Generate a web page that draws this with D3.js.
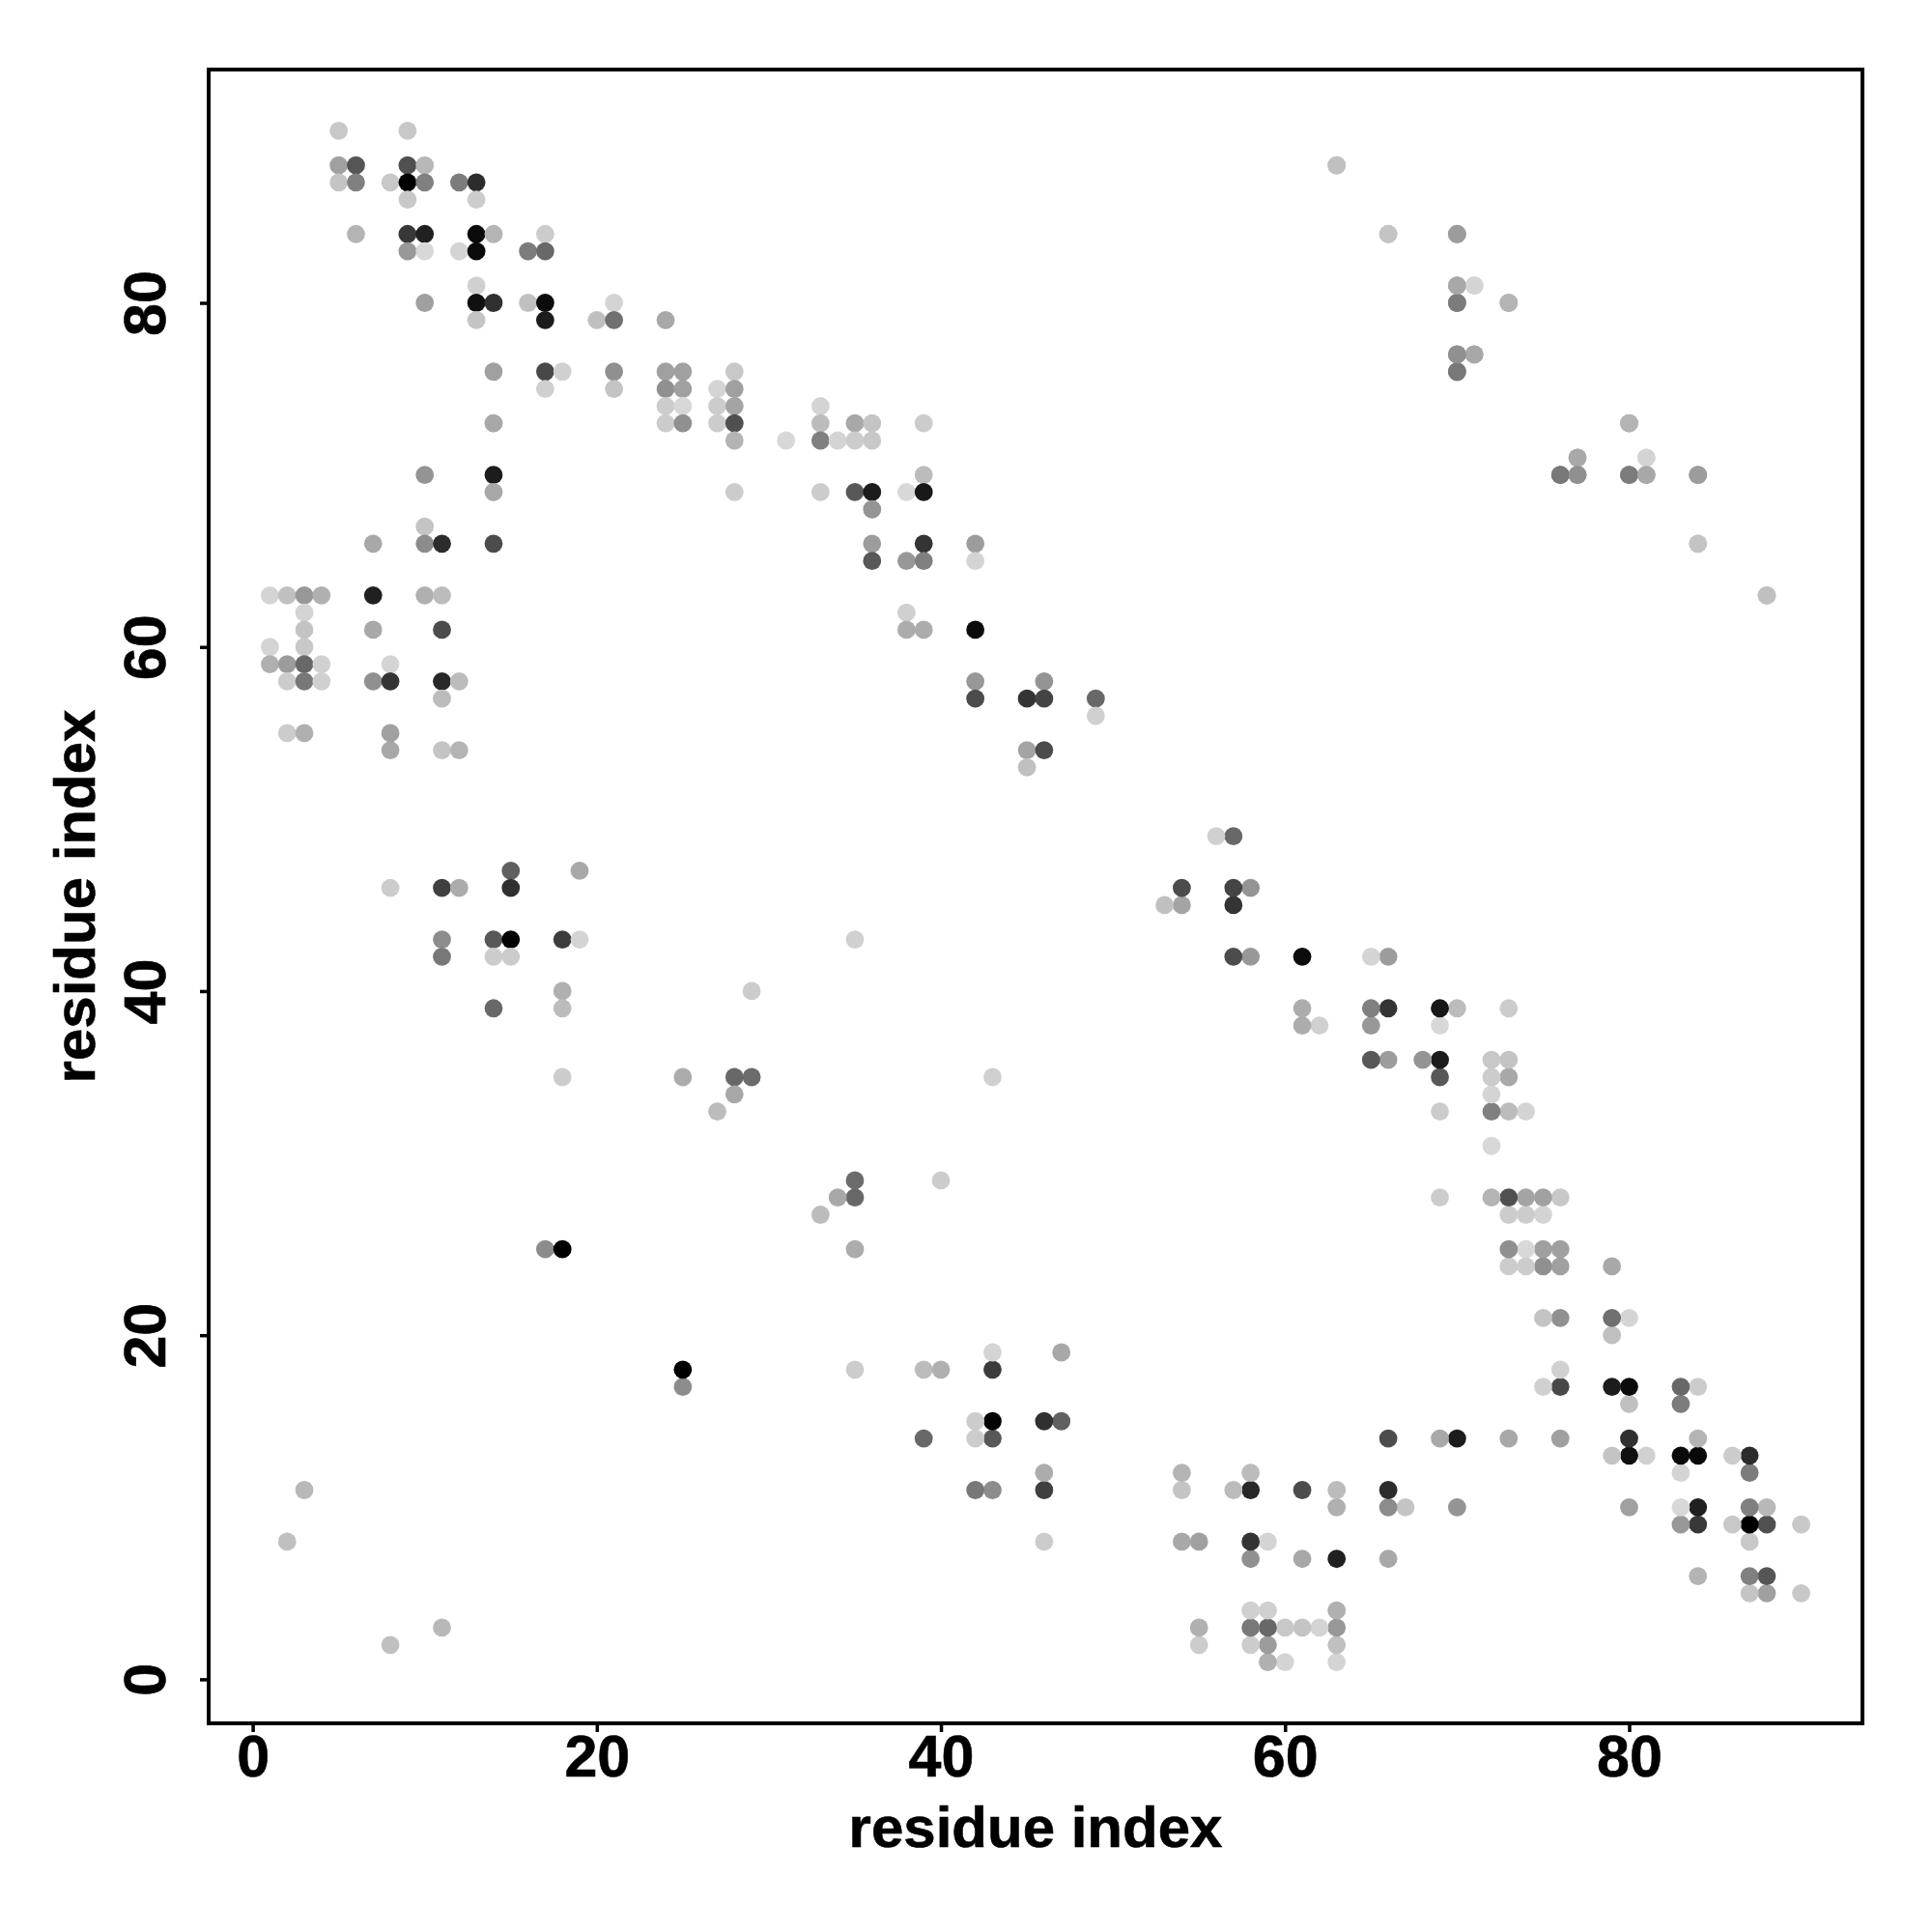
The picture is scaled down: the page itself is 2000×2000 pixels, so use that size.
<!DOCTYPE html>
<html>
<head>
<meta charset="utf-8">
<script src="https://cdn.jsdelivr.net/npm/d3@7"></script>
<style>html,body{margin:0;padding:0;background:#fff}svg{display:block}</style>
</head>
<body>
<svg id="chart" width="2000" height="2000"></svg>
<script>
// Symmetric contact map: each entry is [residue i, residue j, grey level], i < j.
const contactsTop = [
  [5,90,0xc8],[9,90,0xc8],
  [5,88,0xa0],[6,88,0x55],[9,88,0x50],[10,88,0xb8],[63,88,0xc0],
  [5,87,0xc4],[6,87,0x80],[8,87,0xc8],[9,87,0x00],[10,87,0x80],[12,87,0x7c],[13,87,0x2c],
  [9,86,0xc8],[13,86,0xcc],
  [6,84,0xb4],[9,84,0x38],[10,84,0x20],[13,84,0x0a],[14,84,0xb4],[17,84,0xcc],[66,84,0xc4],[70,84,0xa0],
  [9,83,0x98],[10,83,0xd8],[12,83,0xd4],[13,83,0x0a],[16,83,0x7c],[17,83,0x68],
  [13,81,0xd0],[70,81,0xac],[71,81,0xd4],
  [10,80,0xa0],[13,80,0x10],[14,80,0x30],[16,80,0xc0],[17,80,0x0c],[21,80,0xd4],[70,80,0x80],[73,80,0xb8],
  [13,79,0xc4],[17,79,0x1c],[20,79,0xc0],[21,79,0x70],[24,79,0xa8],
  [70,77,0x90],[71,77,0xa8],
  [14,76,0xa0],[17,76,0x48],[18,76,0xd0],[21,76,0x90],[24,76,0xa0],[25,76,0xa0],[28,76,0xc8],[70,76,0x78]
];
const contactsUpper = [
  [17,75,0xd0],[21,75,0xc4],[24,75,0x90],[25,75,0xa0],[27,75,0xd4],[28,75,0xa0],
  [24,74,0xcc],[25,74,0xd8],[27,74,0xcc],[28,74,0xa4],[33,74,0xd4],
  [14,73,0xa8],[24,73,0xcc],[25,73,0x90],[27,73,0xcc],[28,73,0x50],[33,73,0xbc],[35,73,0xa8],[36,73,0xc4],[39,73,0xcc],[80,73,0xb4],
  [28,72,0xb4],[31,72,0xd8],[33,72,0x80],[34,72,0xd4],[35,72,0xcc],[36,72,0xc8],
  [77,71,0xa8],[81,71,0xd4],
  [10,70,0x94],[14,70,0x1c],[39,70,0xbc],[76,70,0x78],[77,70,0x90],[80,70,0x7c],[81,70,0xa8],[84,70,0x9c],
  [14,69,0xa8],[28,69,0xcc],[33,69,0xcc],[35,69,0x58],[36,69,0x1c],[38,69,0xd8],[39,69,0x18],
  [36,68,0x94],
  [10,67,0xc4],
  [7,66,0xa8],[10,66,0x8c],[11,66,0x2c],[14,66,0x4c],[36,66,0x9c],[39,66,0x34],[42,66,0x9c],[84,66,0xc4],
  [36,65,0x58],[38,65,0x98],[39,65,0x80],[42,65,0xd4]
];
const contactsMiddle = [
  [1,63,0xd4],[2,63,0xc0],[3,63,0x98],[4,63,0xb0],[7,63,0x20],[10,63,0xb0],[11,63,0xbc],[88,63,0xc0],
  [3,62,0xd4],[38,62,0xd0],
  [3,61,0xc4],[7,61,0xa8],[11,61,0x4c],[38,61,0xac],[39,61,0xac],[42,61,0x0c],
  [1,60,0xd4],[3,60,0xc8],
  [1,59,0xb0],[2,59,0x9c],[3,59,0x68],[4,59,0xd0],[8,59,0xd4],
  [2,58,0xcc],[3,58,0x78],[4,58,0xd0],[7,58,0x90],[8,58,0x34],[11,58,0x28],[12,58,0xbc],[42,58,0x98],[46,58,0x94],
  [11,57,0xbc],[42,57,0x4c],[45,57,0x34],[46,57,0x44],[49,57,0x68],
  [49,56,0xd0],
  [2,55,0xcc],[3,55,0xb0],[8,55,0xa0],
  [8,54,0xa8],[11,54,0xc4],[12,54,0xb4],[45,54,0xa4],[46,54,0x4c],
  [45,53,0xc0]
];
const contactsLower = [
  [15,47,0x60],[19,47,0xa8],
  [8,46,0xcc],[11,46,0x40],[12,46,0xac],[15,46,0x30],
  [11,43,0x8c],[14,43,0x58],[15,43,0x04],[18,43,0x3c],[19,43,0xd4],[35,43,0xd0],
  [11,42,0x78],[14,42,0xcc],[15,42,0xcc],
  [18,40,0xb0],[29,40,0xcc],
  [14,39,0x68],[18,39,0xbc],
  [18,35,0xcc],[25,35,0xac],[28,35,0x68],[29,35,0x6c],
  [28,34,0xa8],
  [27,33,0xbc],
  [17,25,0x8c],[18,25,0x00],
  [3,11,0xb8],
  [2,8,0xc0]
];
const xTicks = [0,20,40,60,80];
const yTicks = [0,20,40,60,80];
const xLabel = "residue index";
const yLabel = "residue index";

const upperContacts = [...contactsTop, ...contactsUpper, ...contactsMiddle, ...contactsLower];
const points = upperContacts.flatMap(([i,j,g]) => [{x:i,y:j,g},{x:j,y:i,g}]);

const plotLeft = 216, plotRight = 1928, plotTop = 72, plotBottom = 1784;
const x = d3.scaleLinear().domain([-2.56,93.56]).range([plotLeft,plotRight]);
const y = d3.scaleLinear().domain([-2.56,93.56]).range([plotBottom,plotTop]);
const shade = d3.scaleLinear().domain([0,255]).range(["#000000","#ffffff"]);

const svg = d3.select("#chart");
const font = "'Liberation Sans', Arial, sans-serif";

svg.append("g").selectAll("circle").data(points).join("circle")
  .attr("cx", d => x(d.x)).attr("cy", d => y(d.y)).attr("r", 9.4)
  .attr("fill", d => shade(d.g));

svg.append("rect").attr("x",plotLeft).attr("y",plotTop)
  .attr("width",plotRight-plotLeft).attr("height",plotBottom-plotTop)
  .attr("fill","none").attr("stroke","#000").attr("stroke-width",4);

const ax = svg.append("g").attr("transform",`translate(0,${plotBottom})`)
  .call(d3.axisBottom(x).tickValues(xTicks).tickSize(9));
const ay = svg.append("g").attr("transform",`translate(${plotLeft},0)`)
  .call(d3.axisLeft(y).tickValues(yTicks).tickSize(9));
[ax,ay].forEach(a => {
  a.select(".domain").remove();
  a.selectAll("line").attr("stroke","#000").attr("stroke-width",3.5);
  a.selectAll("text").attr("font-family",font).attr("font-weight","bold")
    .attr("font-size",61).attr("fill","#000")
    .attr("stroke","#000").attr("stroke-width",0.6);
});
ax.selectAll("text").attr("y",55).attr("dy",0);
ay.selectAll("text").attr("text-anchor","middle").attr("x",0).attr("y",-45).attr("dy",0)
  .attr("transform","rotate(-90)");

svg.append("text").attr("x",(plotLeft+plotRight)/2).attr("y",1912)
  .attr("text-anchor","middle").attr("font-family",font).attr("font-weight","bold")
  .attr("font-size",60).attr("stroke","#000").attr("stroke-width",0.6).text(xLabel);
svg.append("text").attr("transform",`translate(98,${(plotTop+plotBottom)/2}) rotate(-90)`)
  .attr("text-anchor","middle").attr("font-family",font).attr("font-weight","bold")
  .attr("font-size",60).attr("stroke","#000").attr("stroke-width",0.6).text(yLabel);
</script>
</body>
</html>
